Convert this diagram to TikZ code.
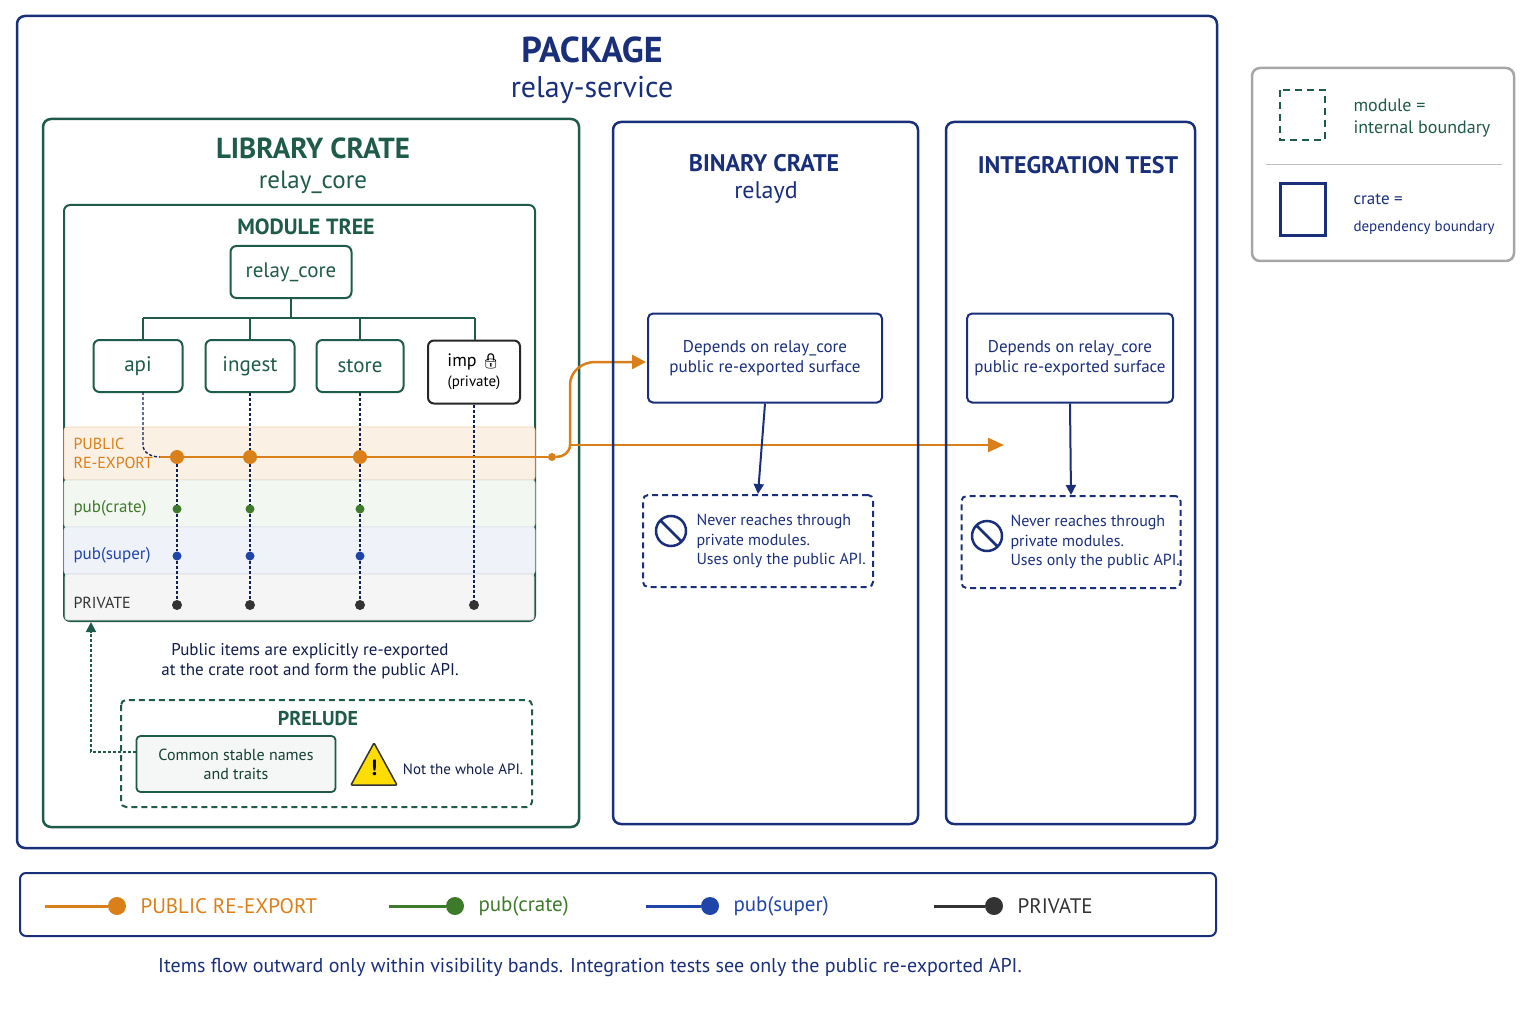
\documentclass[tikz,border=0pt]{standalone}
\usepackage{fontspec}
\setmainfont{PT Sans}
\newfontfamily\symfont{Noto Emoji}
\usetikzlibrary{arrows.meta,positioning}
\definecolor{navy}{HTML}{1A2F7A}
\definecolor{libgreen}{HTML}{1F5B4A}
\definecolor{reexp}{HTML}{D9801A}
\definecolor{crategreen}{HTML}{3D7A2A}
\definecolor{superblue}{HTML}{1F45A8}
\definecolor{privgray}{HTML}{333333}
\newcommand{\fsz}[1]{\fontsize{#1}{\dimexpr #1pt*6/5\relax}\selectfont}
\tikzset{
  box/.style={draw, rounded corners=8pt, line width=2.5pt},
  modbox/.style={draw=libgreen, rounded corners=6pt, line width=2pt, fill=white,
    text=libgreen, minimum height=52pt, font=\fsz{21}},
  infobox/.style={draw=navy, rounded corners=5pt, line width=2pt, fill=white,
    text=navy, align=center, font=\fsz{17}, minimum height=89pt},
  neverbox/.style={draw=navy, dashed, dash pattern=on 6pt off 4pt, rounded corners=5pt,
    line width=2pt, text=navy, align=left, font=\fsz{16}, minimum height=92pt},
  band/.style={rounded corners=3pt, line width=0.8pt},
  dot/.style={circle, inner sep=0pt, minimum size=#1},
  vis/.style={densely dashed, line width=1.4pt, navy!70!black},
  lgline/.style={line width=3pt},
}
\begin{document}
\begin{tikzpicture}[x=1pt,y=-1pt]
\useasboundingbox (0,0) rectangle (1536,1024);

% Package
\draw[box, navy] (17,16) rectangle (1217,848);
\node[navy, font=\fsz{36}\bfseries] (pkgtitle) at (592,50) {PACKAGE};
\node[navy, font=\fsz{30}] (pkgname) at (592,90) {relay-service};

% Library crate
\draw[box, libgreen] (43,119) rectangle (579,827);
\node[libgreen, font=\fsz{29}\bfseries] (libtitle) at (313,148) {LIBRARY CRATE};
\node[libgreen, font=\fsz{25}] (libname) at (313,182) {relay\_core};

% Module tree
\draw[libgreen, rounded corners=6pt, line width=2pt] (64,205) rectangle (535,621);
\node[libgreen, font=\fsz{22}\bfseries] (treetitle) at (306,227) {MODULE TREE};

% Bands
\draw[band, fill=reexp!12, draw=reexp!35] (64,427) rectangle (535,480);
\draw[band, fill=crategreen!6, draw=crategreen!20] (64,480) rectangle (535,527);
\draw[band, fill=superblue!7, draw=superblue!15] (64,527) rectangle (535,574);
\draw[band, fill=black!4, draw=black!15] (65,574) rectangle (534,620);
\node[reexp, font=\fsz{16}, align=left, anchor=west] (lblpub) at (70,453) {PUBLIC\\RE-EXPORT};
\node[crategreen, font=\fsz{17}, anchor=west] (lblcrate) at (70,508) {pub(crate)};
\node[superblue, font=\fsz{17}, anchor=west] (lblsuper) at (70,555) {pub(super)};
\node[privgray, font=\fsz{16}, anchor=west] (lblpriv) at (70,603) {PRIVATE};

% Modules
\node[modbox, minimum width=121pt] (root) at (291,272) {relay\_core};
\node[modbox, minimum width=89pt] (api) at (138,366) {api};
\node[modbox, minimum width=89pt] (ingest) at (250,366) {ingest};
\node[modbox, minimum width=87pt] (store) at (360,366) {store};
\node[draw=black!85, rounded corners=6pt, line width=2pt, fill=white, align=center,
  minimum width=92pt, minimum height=63pt, font=\fsz{18}] (imp) at (474,372)
  {imp {\symfont\fsz{15}🔒}\\[-2pt]{\fsz{15}(private)}};
\coordinate (bus) at (291,318);
\draw[libgreen, line width=2pt] (root.south) -- (bus) (143,318) -- (475,318);
\foreach \x in {143, 250, 360, 475}
  \draw[libgreen, line width=2pt] (\x,318) -- (\x,340);

% Visibility dots
\foreach \n/\x in {a/177, i/250, s/360} {
  \node[dot=14pt, fill=reexp] (\n pub) at (\x,457) {};
  \node[dot=9pt, fill=crategreen] (\n crate) at (\x,509) {};
  \node[dot=9pt, fill=superblue] (\n super) at (\x,556) {};
  \node[dot=10pt, fill=privgray] (\n priv) at (\x,605) {};
  \draw[vis] (\n pub) -- (\n crate) -- (\n super) -- (\n priv);
}
\node[dot=10pt, fill=privgray] (ppriv) at (474,605) {};
\draw[vis] (143,392) -- (143,445) to[out=-90,in=180] (160,457);
\draw[vis] (ingest.south) -- (ipub);
\draw[vis] (store.south) -- (spub);
\draw[vis] (imp.south) -- (ppriv);

% Re-export line
\node[dot=8pt, fill=reexp] (rootexp) at (552,457) {};
\draw[reexp, line width=2.5pt] (160,457) -- (apub) -- (ipub) -- (spub) -- (rootexp);
\coordinate (fork) at (570,445);
\draw[reexp, line width=2.5pt, -{Triangle[length=14pt,width=14pt]}]
  (rootexp) to[out=0,in=-90] (fork) -- (570,385) to[out=90,in=180] (595,362) -- (646,362);
\draw[reexp, line width=2.5pt, -{Triangle[length=16pt,width=14pt]}] (fork) -- (1004,445);

% Caption
\node[navy!60!black, font=\fsz{17}, align=center] (caption) at (310,661)
  {Public items are explicitly re-exported\\at the crate root and form the public API.};

% Prelude
\draw[libgreen, line width=2pt, dashed, dash pattern=on 6pt off 4pt, rounded corners=5pt]
  (121,700) rectangle (532,807);
\node[libgreen, font=\fsz{20}\bfseries] (preltitle) at (318,719) {PRELUDE};
\node[draw=libgreen, rounded corners=4pt, line width=1.8pt, fill=libgreen!5, align=center,
  text=libgreen!70!black, minimum width=199pt, minimum height=56pt, font=\fsz{16}]
  (common) at (236,764) {Common stable names\\and traits};
\draw[line width=1.5pt, draw=black!80, fill=yellow!80!orange, rounded corners=1pt]
  (374,743) -- (397,785) -- (351,785) -- cycle;
\node[font=\fsz{22}\bfseries] (warn) at (374,768) {!};
\node[navy!60!black, font=\fsz{15}] (notwhole) at (463,769) {Not the whole API.};
\draw[libgreen, line width=1.8pt, densely dashed, -{Triangle[length=10pt,width=10pt]}]
  (136,752) -- (91,752) -- (91,622);

% Binary crate
\draw[box, navy] (613,122) rectangle (918,824);
\node[navy, font=\fsz{24}\bfseries] (bintitle) at (764,163) {BINARY CRATE};
\node[navy, font=\fsz{24}] (binname) at (766,193) {relayd};
\node[infobox, minimum width=234pt] (bindep) at (765,358)
  {Depends on relay\_core\\public re-exported surface};
\node[neverbox, minimum width=230pt] (binnever) at (758,541) {};
\node[navy, font=\fsz{16}, align=left, anchor=west] (binnevtxt) at (693,541)
  {Never reaches through\\private modules.\\Uses only the public API.};
\draw[navy, line width=2.5pt] (671,531) circle (15pt) (660.4,520.4) -- (681.6,541.6);
\draw[navy, line width=2pt, -{Triangle[length=10pt,width=10pt]}] (bindep.south) -- (binnever.north);

% Integration test
\draw[box, navy] (946,122) rectangle (1195,824);
\node[navy, font=\fsz{24}\bfseries] (testtitle) at (1078,165) {INTEGRATION TEST};
\node[infobox, minimum width=206pt] (testdep) at (1070,358)
  {Depends on relay\_core\\public re-exported surface};
\node[neverbox, minimum width=219pt] (testnever) at (1071,542) {};
\node[navy, font=\fsz{16}, align=left, anchor=west] (testnevtxt) at (1007,542)
  {Never reaches through\\private modules.\\Uses only the public API.};
\draw[navy, line width=2.5pt] (987,536) circle (15pt) (976.4,525.4) -- (997.6,546.6);
\draw[navy, line width=2pt, -{Triangle[length=10pt,width=10pt]}] (testdep.south) -- (testnever.north);

% Boundary legend
\draw[black!35, line width=2.5pt, rounded corners=8pt] (1252,68) rectangle (1514,261);
\draw[libgreen, line width=2.5pt, dashed, dash pattern=on 7pt off 5pt] (1280,90) rectangle (1325,140);
\node[libgreen, font=\fsz{18}, align=left, anchor=west] (modkey) at (1350,118) {module =\\internal boundary};
\draw[black!25, line width=1pt] (1266,165) -- (1502,165);
\draw[navy, line width=3pt] (1280,184) rectangle (1325,236);
\node[navy, font=\fsz{17}, anchor=west] (cratekey) at (1350,199) {crate =};
\node[navy, font=\fsz{15}, anchor=west] (cratekey2) at (1350,228) {dependency boundary};

% Visibility legend
\draw[navy, line width=2pt, rounded corners=6pt] (20,873) rectangle (1216,936);
\foreach \c/\xa/\xb/\t [count=\k] in {reexp/45/117/PUBLIC RE-EXPORT, crategreen/389/455/pub(crate),
    superblue/646/710/pub(super), privgray/934/994/PRIVATE} {
  \node[dot=18pt, fill=\c] (key\k) at (\xb,906) {};
  \draw[lgline, \c] (\xa,906) -- (key\k);
  \node[anchor=west, text=\c, font=\fsz{21}] (keytxt\k) at (\xb+20,906) {\t};
}

% Footer
\node[navy, font=\fsz{20}] (footer) at (590,967)
  {Items flow outward only within visibility bands. Integration tests see only the public re-exported API.};
\end{tikzpicture}
\end{document}
